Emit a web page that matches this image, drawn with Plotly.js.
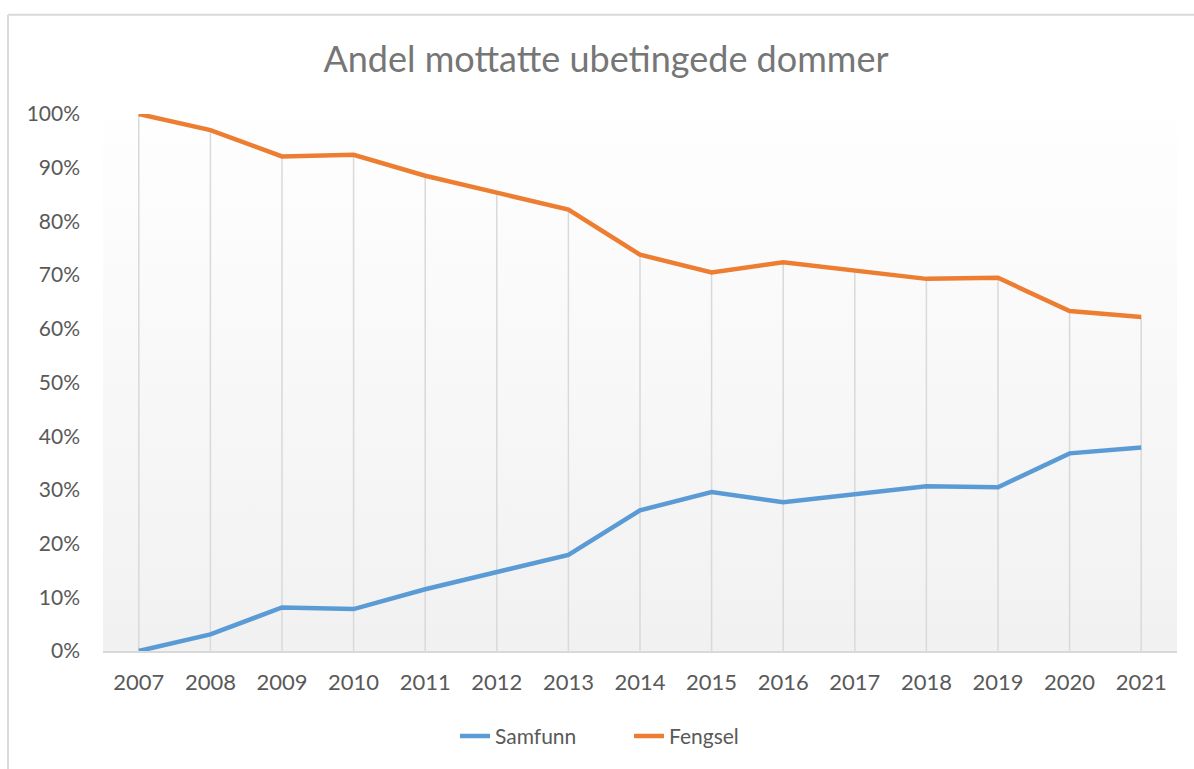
<!DOCTYPE html>
<html>
<head>
<meta charset="utf-8">
<script src="https://cdn.plot.ly/plotly-3.0.1.min.js"></script>
<style>html,body{margin:0;padding:0;background:#fff;}#chart{width:1194px;height:769px;}</style>
</head>
<body>
<div id="chart"></div>
<script>
const years = ['2007','2008','2009','2010','2011','2012','2013','2014','2015','2016','2017','2018','2019','2020','2021'];
const samfunn = [0.000, 0.031, 0.081, 0.078, 0.115, 0.148, 0.179, 0.262, 0.296, 0.277, 0.292, 0.307, 0.305, 0.368, 0.379];
const fengsel = [1.000, 0.970, 0.921, 0.924, 0.885, 0.853, 0.822, 0.738, 0.705, 0.724, 0.708, 0.693, 0.695, 0.633, 0.622];
const titleText = 'Andel mottatte ubetingede dommer';

const W = 1194, H = 769;
const L = 103, R = 1177, T = 114, B = 655;
const pw = R - L, ph = B - T;
const px = v => (v - L) / pw;
const py = v => (B - v) / ph;

// drop lines from the upper series down to the axis
const dropX = [], dropY = [];
years.forEach((yr, i) => {
  const top = Math.max(fengsel[i], samfunn[i]);
  dropX.push(yr, yr, null);
  dropY.push(top, 0, null);
});

const gradSvg = '<svg xmlns="http://www.w3.org/2000/svg" width="10" height="100" preserveAspectRatio="none"><defs><linearGradient id="g" x1="0" y1="0" x2="0" y2="1"><stop offset="0" stop-color="#ffffff"/><stop offset="1" stop-color="#f1f1f1"/></linearGradient></defs><rect width="10" height="100" fill="url(#g)"/></svg>';
const gradUri = 'data:image/svg+xml;base64,' + btoa(gradSvg);

const font = 'Lato, "Open Sans", sans-serif';
const data = [
  {x: dropX, y: dropY, type: 'scatter', mode: 'lines', line: {color: '#d9d9d9', width: 1.5}, showlegend: false, hoverinfo: 'skip', cliponaxis: false},
  {x: years, y: samfunn, name: 'Samfunn', type: 'scatter', mode: 'lines', line: {color: '#5B9BD5', width: 4.5}, cliponaxis: false},
  {x: years, y: fengsel, name: 'Fengsel', type: 'scatter', mode: 'lines', line: {color: '#ED7D31', width: 4.5}, cliponaxis: false}
];

const layout = {
  width: W, height: H,
  margin: {l: L, r: W - R, t: T, b: H - B, pad: 0},
  paper_bgcolor: '#ffffff',
  plot_bgcolor: 'rgba(0,0,0,0)',
  font: {family: font, color: '#595959', size: 22},
  title: {text: titleText, font: {family: font, size: 36, color: '#767676'}, x: 606 / W, xanchor: 'center', xref: 'container', y: 1 - 59 / H, yanchor: 'middle', yref: 'container'},
  xaxis: {type: 'category', range: [-0.5, years.length - 0.5], showgrid: false, zeroline: false, showline: true, linecolor: '#d9d9d9', linewidth: 1.5, ticks: '', tickfont: {size: 22, color: '#595959'}, ticklabelstandoff: 11, fixedrange: true},
  yaxis: {range: [0, 1], dtick: 0.1, tickformat: '.0%', showgrid: false, zeroline: false, showline: false, ticks: '', tickfont: {size: 21, color: '#595959'}, ticklabelstandoff: 22, fixedrange: true},
  legend: {orientation: 'h', x: px(629), xanchor: 'center', y: py(741), yanchor: 'middle', entrywidth: 129, entrywidthmode: 'pixels', font: {size: 21, color: '#595959'}, bgcolor: 'rgba(0,0,0,0)'},
  images: [{source: gradUri, xref: 'paper', yref: 'paper', x: 0, y: py(90), sizex: 1, sizey: (B - 90) / ph, sizing: 'stretch', xanchor: 'left', yanchor: 'top', layer: 'below'}],
  shapes: [
    {type: 'line', xref: 'paper', yref: 'paper', x0: px(8), x1: px(8), y0: py(14), y1: py(775), line: {color: '#d9d9d9', width: 2}},
    {type: 'line', xref: 'paper', yref: 'paper', x0: px(8), x1: px(1200), y0: py(14), y1: py(14), line: {color: '#d9d9d9', width: 2}}
  ],
  hovermode: false
};

Plotly.newPlot('chart', data, layout, {displayModeBar: false, staticPlot: true});
</script>
</body>
</html>
